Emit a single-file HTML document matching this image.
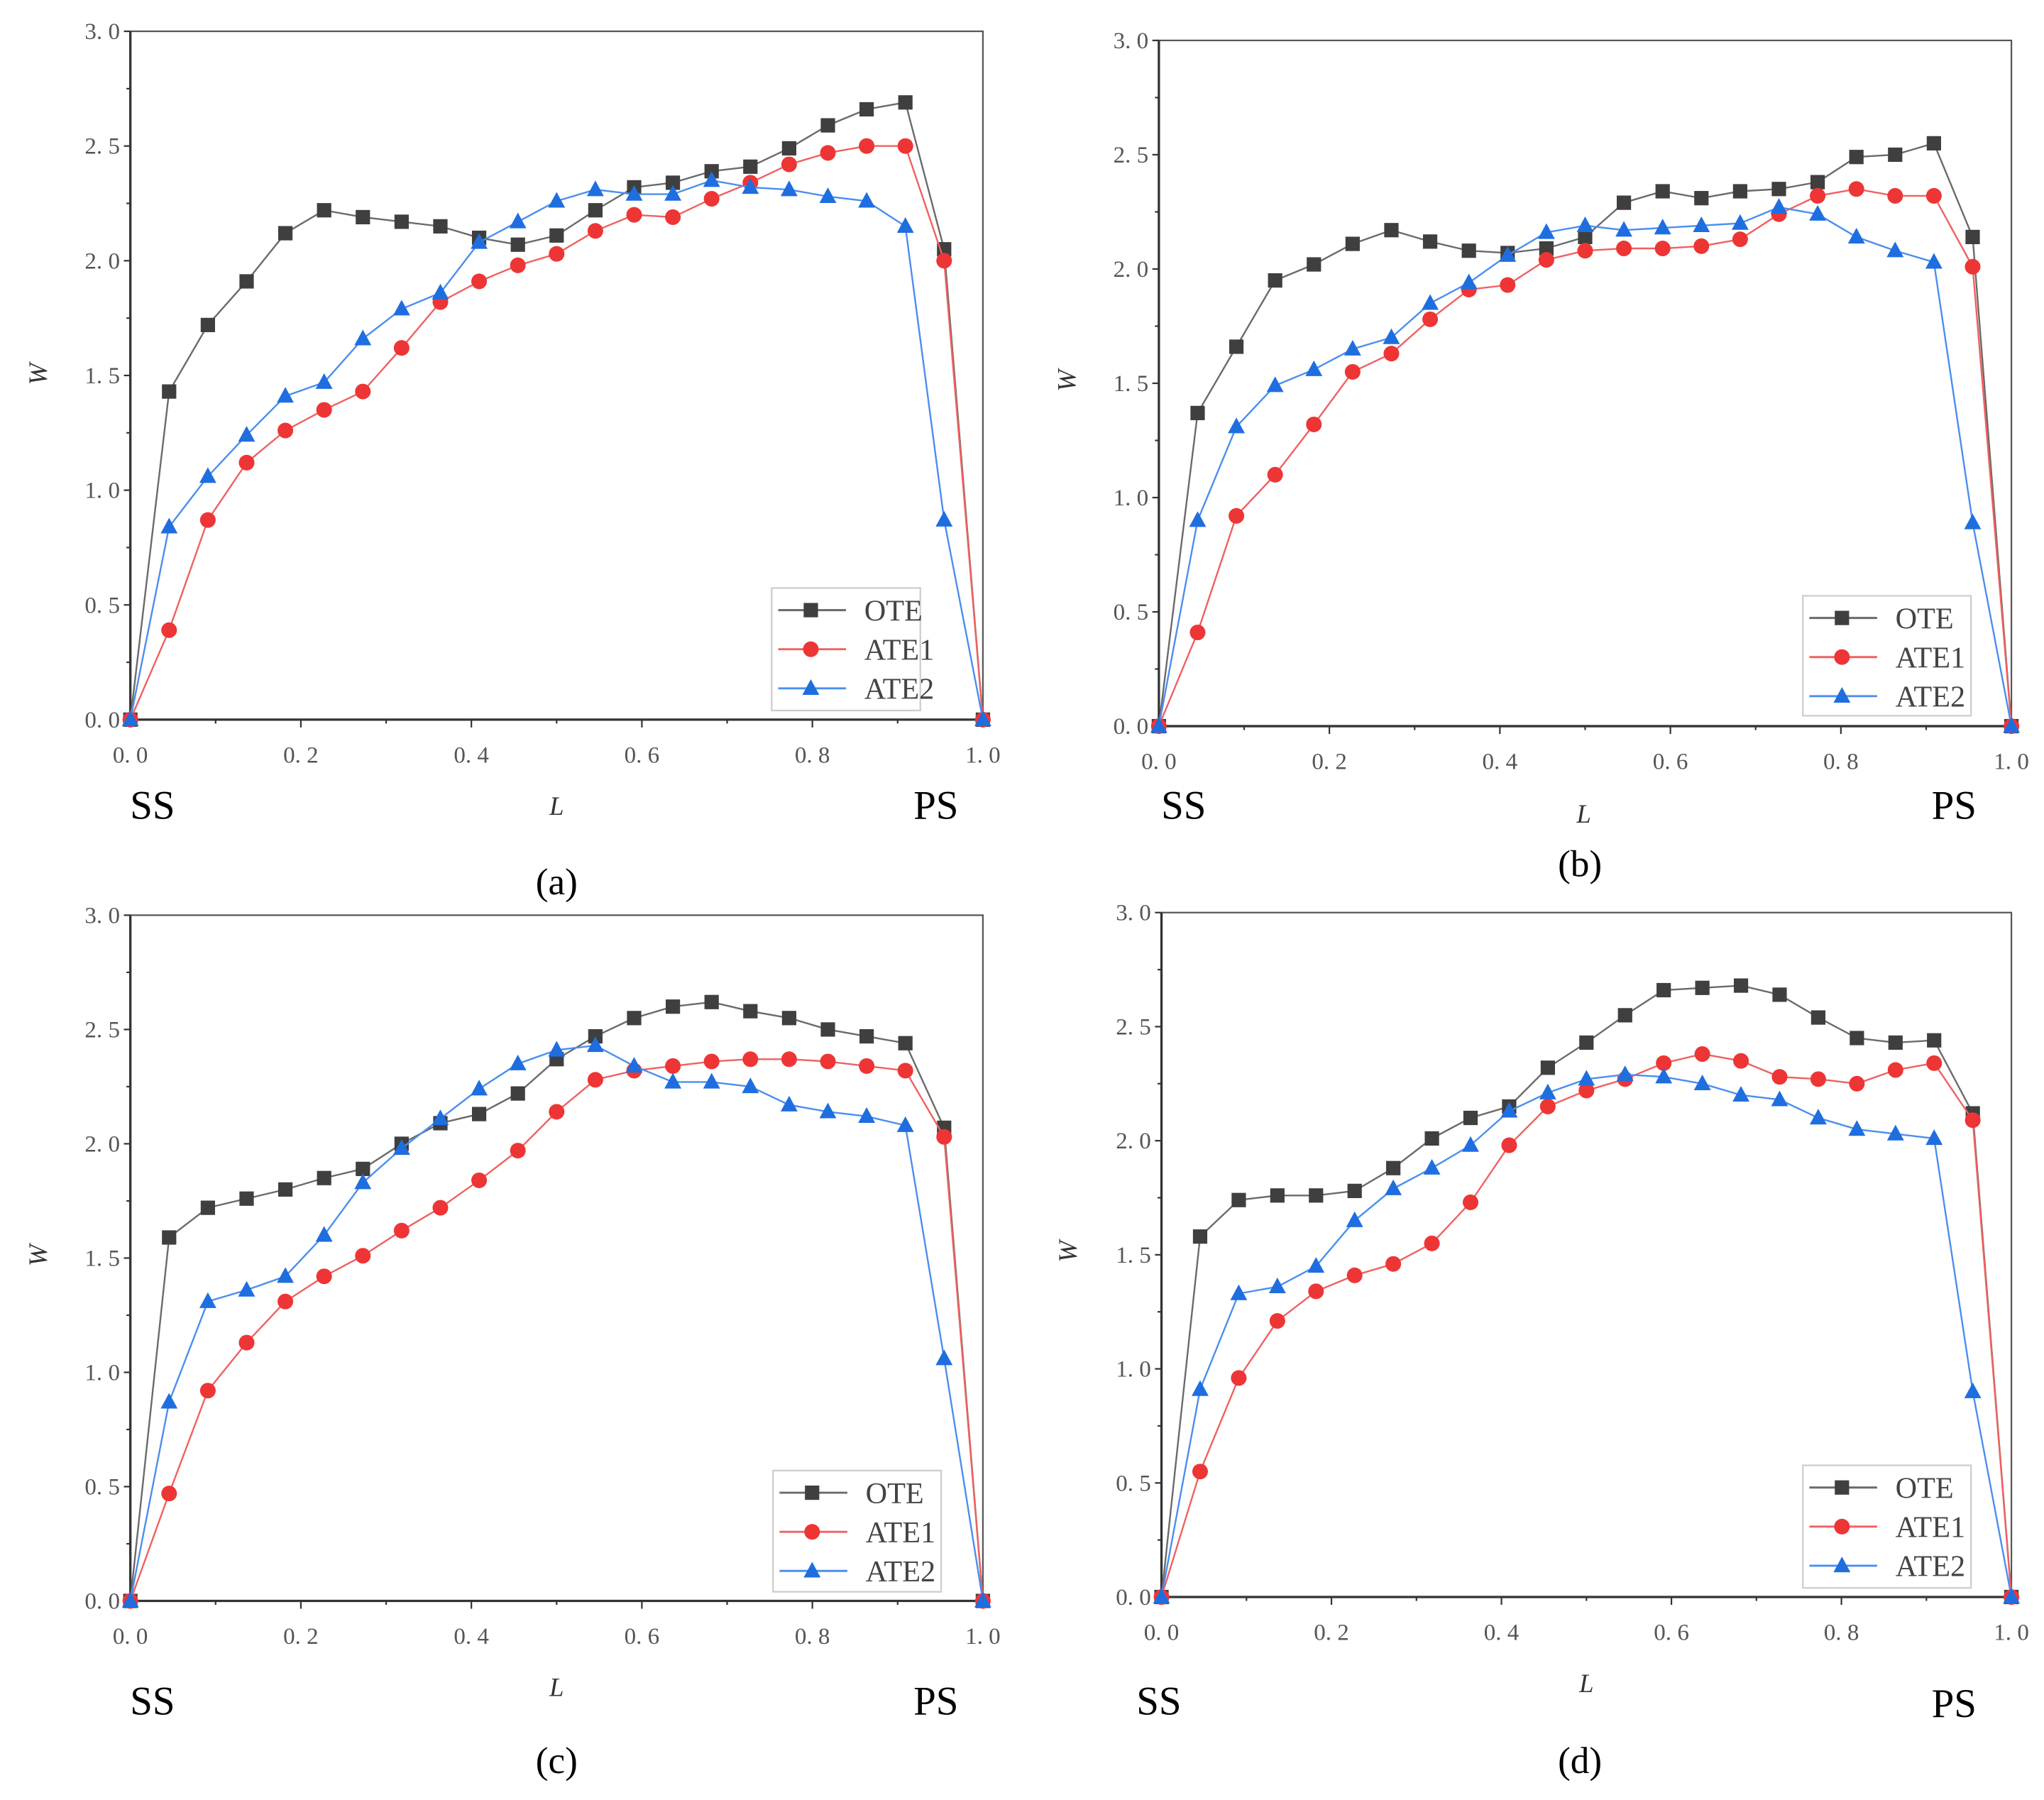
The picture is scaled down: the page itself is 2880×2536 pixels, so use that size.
<!DOCTYPE html>
<html><head><meta charset="utf-8"><style>
html,body{margin:0;padding:0;background:#fff;}
svg{display:block;}
text{font-family:"Liberation Serif",serif;}
</style></head>
<body>
<svg id="fig" width="2880" height="2536" viewBox="0 0 1568 1380.7" xmlns="http://www.w3.org/2000/svg"></svg>
<script>
const xs = [0,1,2,3,4,5,6,7,8,9,10,11,12,13,14,15,16,17,18,19,20,21,22].map(i=>i/22);
const xTicks = ["0. 0","0. 2","0. 4","0. 6","0. 8","1. 0"];
const yTicks = ["0. 0","0. 5","1. 0","1. 5","2. 0","2. 5","3. 0"];
const seriesNames = ["OTE","ATE1","ATE2"];
const aOTE  = [0,1.43,1.72,1.91,2.12,2.22,2.19,2.17,2.15,2.10,2.07,2.11,2.22,2.32,2.34,2.39,2.41,2.49,2.59,2.66,2.69,2.05,0];
const aATE1 = [0,0.39,0.87,1.12,1.26,1.35,1.43,1.62,1.82,1.91,1.98,2.03,2.13,2.20,2.19,2.27,2.34,2.42,2.47,2.50,2.50,2.00,0];
const aATE2 = [0,0.84,1.06,1.24,1.41,1.47,1.66,1.79,1.86,2.08,2.17,2.26,2.31,2.29,2.29,2.35,2.32,2.31,2.28,2.26,2.15,0.87,0];
const bOTE  = [0,1.37,1.66,1.95,2.02,2.11,2.17,2.12,2.08,2.07,2.09,2.14,2.29,2.34,2.31,2.34,2.35,2.38,2.49,2.50,2.55,2.14,0];
const bATE1 = [0,0.41,0.92,1.10,1.32,1.55,1.63,1.78,1.91,1.93,2.04,2.08,2.09,2.09,2.10,2.13,2.24,2.32,2.35,2.32,2.32,2.01,0];
const bATE2 = [0,0.90,1.31,1.49,1.56,1.65,1.70,1.85,1.94,2.06,2.16,2.19,2.17,2.18,2.19,2.20,2.27,2.24,2.14,2.08,2.03,0.89,0];
const cOTE  = [0,1.59,1.72,1.76,1.80,1.85,1.89,2.00,2.09,2.13,2.22,2.37,2.47,2.55,2.60,2.62,2.58,2.55,2.50,2.47,2.44,2.07,0];
const cATE1 = [0,0.47,0.92,1.13,1.31,1.42,1.51,1.62,1.72,1.84,1.97,2.14,2.28,2.32,2.34,2.36,2.37,2.37,2.36,2.34,2.32,2.03,0];
const cATE2 = [0,0.87,1.31,1.36,1.42,1.60,1.83,1.98,2.11,2.24,2.35,2.41,2.43,2.34,2.27,2.27,2.25,2.17,2.14,2.12,2.08,1.06,0];
const dOTE  = [0,1.58,1.74,1.76,1.76,1.78,1.88,2.01,2.10,2.15,2.32,2.43,2.55,2.66,2.67,2.68,2.64,2.54,2.45,2.43,2.44,2.12,0];
const dATE1 = [0,0.55,0.96,1.21,1.34,1.41,1.46,1.55,1.73,1.98,2.15,2.22,2.27,2.34,2.38,2.35,2.28,2.27,2.25,2.31,2.34,2.09,0];
const dATE2 = [0,0.91,1.33,1.36,1.45,1.65,1.79,1.88,1.98,2.13,2.21,2.27,2.29,2.28,2.25,2.20,2.18,2.10,2.05,2.03,2.01,0.90,0];
const panelLabels = ["(a)","(b)","(c)","(d)"];

const NS="http://www.w3.org/2000/svg";
const svg=document.getElementById('fig');
function mk(tag,attrs,parent){const e=document.createElementNS(NS,tag);for(const k in attrs)e.setAttribute(k,attrs[k]);(parent||svg).appendChild(e);return e;}
const colors=["#3f3f3f","#ee3535","#1f6ee0"];
const lineColors=["#6a6a6a","#f06060","#4a8ef0"];
const panels=[
 {x0:100,x1:754,y0:552,y3:24,data:[aOTE,aATE1,aATE2],ss:[117,628],ps:[718,628],L:[427,625],cap:[427,686],W:[30,287],leg:[592,451,114,94]},
 {x0:889,x1:1543,y0:557,y3:31,data:[bOTE,bATE1,bATE2],ss:[908,628],ps:[1499,628],L:[1215,631],cap:[1212,672],W:[819,292],leg:[1383,457,129,92]},
 {x0:100,x1:754,y0:1228,y3:702,data:[cOTE,cATE1,cATE2],ss:[117,1315],ps:[718,1315],L:[427,1301],cap:[427,1360],W:[30,963],leg:[593,1128,129,93]},
 {x0:891,x1:1543,y0:1225,y3:700,data:[dOTE,dATE1,dATE2],ss:[889,1315],ps:[1499,1317],L:[1217,1298],cap:[1212,1360],W:[820,960],leg:[1383,1124,129,94]}
];
panels.forEach((p,pi)=>{
 const g=mk('g',{});
 
 
 const sx=v=>p.x0+v*(p.x1-p.x0);
 const sy=v=>p.y0-v/3*(p.y0-p.y3);
 // frame
 const fr=mk('rect',{x:p.x0,y:p.y3,width:p.x1-p.x0,height:p.y0-p.y3,fill:'none',stroke:'#555','stroke-width':1.2},g);
 
 mk('line',{x1:p.x0,y1:p.y3,x2:p.x0,y2:p.y0,stroke:'#333','stroke-width':1.8},g);
 mk('line',{x1:p.x0,y1:p.y0,x2:p.x1,y2:p.y0,stroke:'#333','stroke-width':1.8},g);
 // y ticks
 for(let i=0;i<=12;i++){const v=i*0.25,y=sy(v),maj=i%2==0;
  mk('line',{x1:p.x0,y1:y,x2:p.x0-(maj?5:3),y2:y,stroke:'#333','stroke-width':1.2},g);}
 yTicks.forEach((t,i)=>{const e=mk('text',{x:p.x0-8,y:sy(i*0.5)+6,'text-anchor':'end','font-size':18,fill:'#555'},g);e.textContent=t;
  });
 for(let i=0;i<=10;i++){const x=sx(i/10),maj=i%2==0;
  mk('line',{x1:x,y1:p.y0,x2:x,y2:p.y0+(maj?6:3),stroke:'#333','stroke-width':1.2},g);}
 xTicks.forEach((t,i)=>{const e=mk('text',{x:sx(i*0.2),y:p.y0+33,'text-anchor':'middle','font-size':18,fill:'#555'},g);e.textContent=t;
  });
 // labels
 let e=mk('text',{x:p.W[0],y:p.W[1],'text-anchor':'middle','font-size':20,'font-style':'italic',fill:'#333',transform:`rotate(-90 ${p.W[0]} ${p.W[1]}) translate(0 6)`},g);e.textContent='W';
 
 e=mk('text',{x:p.L[0],y:p.L[1],'text-anchor':'middle','font-size':20,'font-style':'italic',fill:'#333'},g);e.textContent='L';
 
 e=mk('text',{x:p.ss[0],y:p.ss[1],'text-anchor':'middle','font-size':31,fill:'#000'},g);e.textContent='SS';
 
 e=mk('text',{x:p.ps[0],y:p.ps[1],'text-anchor':'middle','font-size':31,fill:'#000'},g);e.textContent='PS';
 
 e=mk('text',{x:p.cap[0],y:p.cap[1],'text-anchor':'middle','font-size':29,fill:'#000'},g);e.textContent=panelLabels[pi];
 
 // series
 const marker=(s,x,y,par)=>{let m;
  if(s==0)m=mk('rect',{x:x-5.5,y:y-5.5,width:11,height:11,fill:colors[0]},par);
  else if(s==1)m=mk('circle',{cx:x,cy:y,r:6,fill:colors[1]},par);
  else m=mk('polygon',{points:`${x},${y-7} ${x+6.5},${y+5} ${x-6.5},${y+5}`,fill:colors[2]},par);
  return m;};
 p.data.forEach((arr,s)=>{
  const sg=mk('g',{},g);
  
  
  const pts=arr.map((v,i)=>sx(xs[i])+','+sy(v)).join(' ');
  mk('polyline',{points:pts,fill:'none',stroke:lineColors[s],'stroke-width':1.3},sg);
  arr.forEach((v,i)=>{const m=marker(s,sx(xs[i]),sy(v),sg);
   
   });
 });
 // legend
 const [lx,ly,lw,lh]=p.leg;
 const lg=mk('g',{},g);
 
 
 mk('rect',{x:lx,y:ly,width:lw,height:lh,fill:'#fff',stroke:'#ccc','stroke-width':1.2},lg);
 seriesNames.forEach((n,s)=>{const y=ly+17+s*30;
  const en=mk('g',{},lg);
  
  
  mk('line',{x1:lx+5,y1:y,x2:lx+57,y2:y,stroke:lineColors[s],'stroke-width':1.6},en);
  marker(s,lx+30,y,en);
  const t=mk('text',{x:lx+71,y:y+8,'font-size':23,fill:'#444'},en);t.textContent=n;});
});
</script>
</body></html>
